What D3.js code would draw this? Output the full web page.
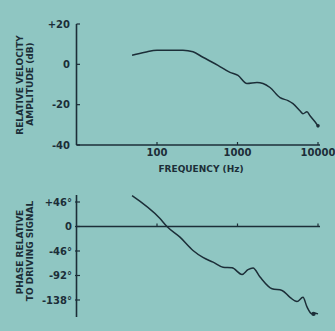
<!DOCTYPE html>
<html><head><meta charset="utf-8">
<script src="https://cdn.jsdelivr.net/npm/d3@7"></script>
<style>
html,body{margin:0;padding:0;background:#8fc6c2;}
svg{display:block;}
text{font-family:"DejaVu Sans",sans-serif;font-weight:bold;fill:#1c2e38;}
</style></head>
<body>
<script>
// Amplitude response
const ampFreq = [49, 71, 100, 150, 210, 280, 372, 572, 807, 1015, 1312, 1746, 2074, 2533, 3375, 4240, 4890, 5970, 6510, 7300, 7960, 9180, 10000];
const ampDb   = [4.5, 6, 7, 7, 7, 6.2, 3.5, -0.5, -4, -5.5, -9.5, -9, -9.5, -11.5, -16.5, -18, -19.5, -23, -24.5, -23.5, -25.5, -28.5, -30.5];
// Phase response
const phaseFreq = [49, 109, 133, 193, 280, 372, 497, 661, 855, 1138, 1350, 1560, 1905, 2685, 3575, 4490, 5485, 6510, 7300, 8410, 9300, 10000];
const phaseDeg  = [58, 15, 0, -20, -45, -58, -67, -76.5, -77.5, -90, -81, -78, -95, -117, -120, -133, -141, -133, -151, -164, -163, -164];
// Tick labels
const freqTicks = [100, 1000, 10000];
const ampTicks = [20, 0, -20, -40];
const ampTickLabels = ["+20", "0", "-20", "-40"];
const phaseTicks = [46, 0, -46, -92, -138];
const phaseTickLabels = ["+46°", "0", "-46°", "-92°", "-138°"];

const W = 335, H = 331, ink = "#1c2e38";
const svg = d3.select("body").append("svg").attr("width", W).attr("height", H);

const x = d3.scaleLog().domain([10, 10000]).range([76.5, 318]);
const yA = d3.scaleLinear().domain([-40, 20]).range([145, 24]);
const yP = d3.scaleLinear().domain([-138, 46]).range([300, 202]);

// ---- Top chart ----
const gTop = svg.append("g");
gTop.append("line").attr("x1", 76.5).attr("x2", 76.5).attr("y1", yA(20)).attr("y2", yA(-40))
  .attr("stroke", ink).attr("stroke-width", 1.6);
gTop.append("line").attr("x1", 76.5).attr("x2", 320).attr("y1", yA(-40)).attr("y2", yA(-40))
  .attr("stroke", ink).attr("stroke-width", 1.6);
ampTicks.forEach((t, i) => {
  gTop.append("line").attr("x1", 76.5).attr("x2", 80).attr("y1", yA(t)).attr("y2", yA(t)).attr("stroke", ink).attr("stroke-width", 1.2);
  gTop.append("text").attr("x", 70).attr("y", yA(t)).attr("dy", "0.35em").attr("text-anchor", "end")
    .attr("font-size", 10).text(ampTickLabels[i]);
});
freqTicks.forEach(f => {
  gTop.append("line").attr("x1", x(f)).attr("x2", x(f)).attr("y1", yA(-40)).attr("y2", yA(-40) - 3).attr("stroke", ink).attr("stroke-width", 1.2);
  gTop.append("text").attr("x", x(f)).attr("y", 156).attr("text-anchor", "middle").attr("font-size", 10).text(f);
});
gTop.append("text").attr("x", 201).attr("y", 172).attr("text-anchor", "middle").attr("font-size", 9).text("FREQUENCY (Hz)");
gTop.append("text").attr("transform", "translate(23,85) rotate(-90)").attr("text-anchor", "middle").attr("font-size", 9).text("RELATIVE VELOCITY");
gTop.append("text").attr("transform", "translate(33,84) rotate(-90)").attr("text-anchor", "middle").attr("font-size", 9).text("AMPLITUDE (dB)");

const ampData = ampFreq.map((f, i) => [f, ampDb[i]]);
gTop.append("path").datum(ampData)
  .attr("d", d3.line().x(d => x(d[0])).y(d => yA(d[1])).curve(d3.curveMonotoneX))
  .attr("fill", "none").attr("stroke", ink).attr("stroke-width", 1.5);
gTop.append("circle").attr("cx", x(10000)).attr("cy", yA(-30.5)).attr("r", 1.8).attr("fill", ink);

// ---- Bottom chart ----
const gBot = svg.append("g");
gBot.append("line").attr("x1", 76.5).attr("x2", 76.5).attr("y1", 195).attr("y2", 317)
  .attr("stroke", ink).attr("stroke-width", 1.6);
gBot.append("line").attr("x1", 76.5).attr("x2", 320).attr("y1", yP(0)).attr("y2", yP(0))
  .attr("stroke", ink).attr("stroke-width", 1.4);
phaseTicks.forEach((t, i) => {
  gBot.append("line").attr("x1", 75).attr("x2", 80).attr("y1", yP(t)).attr("y2", yP(t)).attr("stroke", ink).attr("stroke-width", 1.2);
  gBot.append("text").attr("x", 72).attr("y", yP(t)).attr("dy", "0.35em").attr("text-anchor", "end")
    .attr("font-size", 10).text(phaseTickLabels[i]);
});
freqTicks.forEach(f => {
  gBot.append("line").attr("x1", x(f)).attr("x2", x(f)).attr("y1", yP(0)).attr("y2", yP(0) - 3).attr("stroke", ink).attr("stroke-width", 1.2);
});
gBot.append("text").attr("transform", "translate(23,252) rotate(-90)").attr("text-anchor", "middle").attr("font-size", 9).text("PHASE RELATIVE");
gBot.append("text").attr("transform", "translate(33,251) rotate(-90)").attr("text-anchor", "middle").attr("font-size", 9).text("TO DRIVING SIGNAL");

const phaseData = phaseFreq.map((f, i) => [f, phaseDeg[i]]);
gBot.append("path").datum(phaseData)
  .attr("d", d3.line().x(d => x(d[0])).y(d => yP(d[1])).curve(d3.curveMonotoneX))
  .attr("fill", "none").attr("stroke", ink).attr("stroke-width", 1.5);
gBot.append("circle").attr("cx", x(8800)).attr("cy", yP(-164)).attr("r", 2.2).attr("fill", ink);
</script>
</body></html>
